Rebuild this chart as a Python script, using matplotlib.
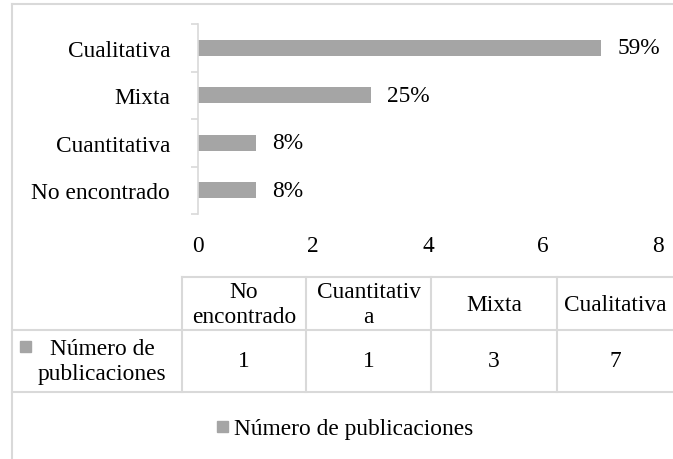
import matplotlib.pyplot as plt
from matplotlib.patches import Rectangle

# data
categories = ['No encontrado', 'Cuantitativa', 'Mixta', 'Cualitativa']
header_labels = ['No\nencontrado', 'Cuantitativ\na', 'Mixta', 'Cualitativa']
publicaciones = [1, 1, 3, 7]
pct_labels = ['8%', '8%', '25%', '59%']
series_name = 'Número de publicaciones'
row_label = 'Número de\npublicaciones'
x_ticks = [0, 2, 4, 6, 8]

BAR_COLOR = '#a5a5a5'
LINE_COLOR = '#d9d9d9'
FS = 16.8
W, H = 673, 460

plt.rcParams['font.family'] = ['Liberation Serif', 'DejaVu Serif']

fig = plt.figure(figsize=(W / 100, H / 100), dpi=100)

# background layer in pixel coordinates (frame, table, legend)
bg = fig.add_axes([0, 0, 1, 1])
bg.set_xlim(0, W)
bg.set_ylim(H, 0)
bg.axis('off')

lw = 1.5
# outer chart frame
bg.plot([12, 12], [5, H], color=LINE_COLOR, lw=lw)
bg.plot([12, W], [5, 5], color=LINE_COLOR, lw=lw)

# data table (last column is cut by the right edge)
col_edges = [182, 306, 431, 557, 673]
top, mid, bottom = 278, 331, 393
bg.plot([182, W], [top, top], color=LINE_COLOR, lw=lw)
bg.plot([12, W], [mid, mid], color=LINE_COLOR, lw=lw)
bg.plot([12, W], [bottom, bottom], color=LINE_COLOR, lw=lw)
for xe in col_edges[:-1]:
    bg.plot([xe, xe], [top, bottom], color=LINE_COLOR, lw=lw)

for i, (hdr, val) in enumerate(zip(header_labels, publicaciones)):
    cx = (col_edges[i] + col_edges[i + 1]) / 2
    bg.text(cx, (top + mid) / 2 + 1, hdr, ha='center', va='center',
            fontsize=FS, linespacing=1.25)
    bg.text(cx, (mid + bottom) / 2, str(val), ha='center', va='center',
            fontsize=FS)

bg.add_patch(Rectangle((20, 342), 11, 11, color=BAR_COLOR))
bg.text(102, (mid + bottom) / 2, row_label, ha='center', va='center',
        fontsize=FS, linespacing=1.25)

# legend
bg.add_patch(Rectangle((217, 422), 11, 11, color=BAR_COLOR))
bg.text(234, 430, series_name, ha='left', va='center', fontsize=FS)

# bar chart
ax = fig.add_axes([198 / W, (H - 215) / H, 460 / W, 190 / H])
ax.patch.set_alpha(0)
ypos = range(len(categories))
ax.barh(ypos, publicaciones, height=0.34, color=BAR_COLOR)
for y, v, lab in zip(ypos, publicaciones, pct_labels):
    ax.annotate(lab, (v, y), xytext=(12, 0), textcoords='offset points',
                ha='left', va='center', fontsize=FS)

ax.set_xlim(0, 8)
ax.set_ylim(-0.5, len(categories) - 0.5)
ax.set_xticks(x_ticks)
ax.set_yticks(list(ypos))
ax.set_yticklabels(categories)
ax.set_yticks([y - 0.5 for y in range(len(categories) + 1)], minor=True)
ax.tick_params(axis='y', which='major', length=0, pad=20, labelsize=FS)
ax.tick_params(axis='y', which='minor', length=5, color=LINE_COLOR, width=1.2)
ax.tick_params(axis='x', length=0, pad=15, labelsize=FS)
for s in ['top', 'right', 'bottom']:
    ax.spines[s].set_visible(False)
ax.spines['left'].set_color(LINE_COLOR)
ax.spines['left'].set_linewidth(1.2)

fig.savefig('out.png', dpi=100)
